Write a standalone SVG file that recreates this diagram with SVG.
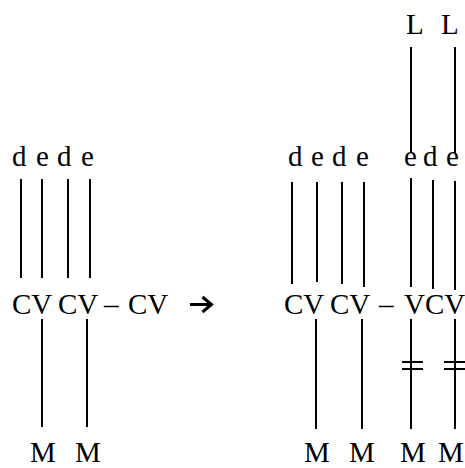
<svg xmlns="http://www.w3.org/2000/svg" width="465" height="468" viewBox="0 0 465 468">
  <style>
    text { font-family: "Liberation Serif", "Times New Roman", serif; font-size: 29px; fill: #000; }
    .ln { stroke: #000; stroke-width: 2; fill: none; }
    .arr { stroke: #000; stroke-width: 3; fill: none; stroke-linecap: butt; stroke-linejoin: miter; }
  </style>
  <rect width="465" height="468" fill="#fff"/>

  <!-- left form: melodic tiers -->
  <g id="left-tones">
    <text x="12" y="166">d</text>
    <text x="36" y="166">e</text>
    <text x="57" y="166">d</text>
    <text x="81" y="166">e</text>
  </g>
  <g id="left-skeleton">
    <text x="12" y="314">CV</text>
    <text x="58" y="314">CV</text>
    <text x="104" y="314">–</text>
    <text x="128" y="314">CV</text>
  </g>
  <g id="left-morphemes">
    <text x="30" y="462">M</text>
    <text x="75" y="462">M</text>
  </g>

  <!-- derivation arrow -->
  <g id="derives" class="arr">
    <path d="M190 304.5 H211"/>
    <path d="M202.5 297 L211.5 304.5 L202.5 312"/>
  </g>

  <!-- right form -->
  <g id="right-L">
    <text x="406" y="34">L</text>
    <text x="441" y="34">L</text>
  </g>
  <g id="right-tones">
    <text x="288" y="166">d</text>
    <text x="311" y="166">e</text>
    <text x="332" y="166">d</text>
    <text x="356" y="166">e</text>
    <text x="404" y="166">e</text>
    <text x="423" y="166">d</text>
    <text x="446" y="166">e</text>
  </g>
  <g id="right-skeleton">
    <text x="284" y="314">CV</text>
    <text x="330" y="314">CV</text>
    <text x="379" y="314">–</text>
    <text x="404" y="314">VCV</text>
  </g>
  <g id="right-morphemes">
    <text x="304" y="462">M</text>
    <text x="349" y="462">M</text>
    <text x="400" y="462">M</text>
    <text x="438" y="462">M</text>
  </g>

  <!-- association lines -->
  <g id="connectors" class="ln">
    <line x1="21" y1="179" x2="21" y2="278"/>
    <line x1="42" y1="179" x2="42" y2="278"/>
    <line x1="68" y1="179" x2="68" y2="278"/>
    <line x1="90" y1="179" x2="90" y2="278"/>
    <line x1="42" y1="319" x2="42" y2="427"/>
    <line x1="87" y1="319" x2="87" y2="427"/>

    <line x1="411" y1="47" x2="411" y2="153"/>
    <line x1="455" y1="47" x2="455" y2="153"/>

    <line x1="292" y1="182" x2="292" y2="284"/>
    <line x1="317" y1="182" x2="317" y2="282"/>
    <line x1="342" y1="182" x2="342" y2="284"/>
    <line x1="364" y1="182" x2="364" y2="287"/>
    <line x1="411" y1="178" x2="411" y2="287"/>
    <line x1="433" y1="180" x2="433" y2="289"/>
    <line x1="455" y1="181" x2="455" y2="290"/>

    <line x1="316" y1="319" x2="316" y2="429"/>
    <line x1="362" y1="319" x2="362" y2="429"/>
    <line x1="411" y1="319" x2="411" y2="429"/>
    <line x1="455" y1="319" x2="455" y2="429"/>

    <line x1="402" y1="362" x2="423" y2="362"/>
    <line x1="402" y1="369" x2="423" y2="369"/>
    <line x1="444" y1="362" x2="465" y2="362"/>
    <line x1="444" y1="369" x2="465" y2="369"/>
  </g>
</svg>
